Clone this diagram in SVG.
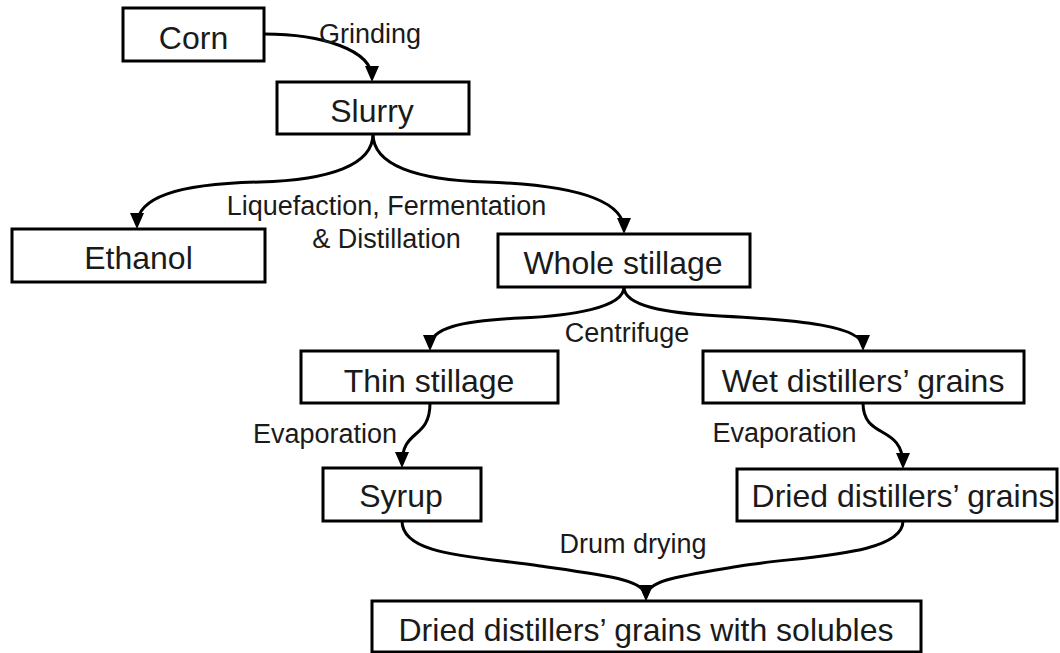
<svg xmlns="http://www.w3.org/2000/svg" width="1060" height="653" viewBox="0 0 1060 653">
<style>
.box rect{fill:#fff;stroke:#000;stroke-width:3}
.box text{font-family:"Liberation Sans",Arial,sans-serif;font-size:32px;fill:#1a1a1a;text-anchor:middle}
.lbl{font-family:"Liberation Sans",Arial,sans-serif;font-size:27px;fill:#1a1a1a;text-anchor:middle}
.edge{fill:none;stroke:#000;stroke-width:3;marker-end:url(#arr)}
</style>
<defs>
<marker id="arr" viewBox="0 0 16 14" refX="12" refY="7" markerWidth="16" markerHeight="14" markerUnits="userSpaceOnUse" orient="auto"><path d="M0,0 L16,7 L0,14 z" fill="#000"/></marker>
</defs>
<rect width="1060" height="653" fill="#fff"/>
<g id="connectors">
<path class="edge" d="M264,34 C322,34 372,50 372,78"/>
<path class="edge" d="M373,134 C373,165 330,180 260,182 C175,184 137,198 137,225"/>
<path class="edge" d="M373,134 C373,165 416,180 486,182 C575,185 624,200 624,230"/>
<path class="edge" d="M624,287 C624,308 570,316 520,318 C460,321 430,328 430,347"/>
<path class="edge" d="M624,287 C624,306 665,313 720,316 C800,320 863,326 863,347"/>
<path class="edge" d="M430,403 C430,440 402,428 402,464"/>
<path class="edge" d="M863,403 C863,440 903,424 903,465"/>
<path class="edge" d="M402,521 C402,555 470,556 540,566 C610,576 646,580 646,597"/>
<path class="edge" d="M903,521 C903,556 800,556 740,566 C680,576 646,580 646,597"/>
</g>
<g id="labels">
<text class="lbl" x="370" y="43">Grinding</text>
<text class="lbl" x="386.5" y="215">Liquefaction, Fermentation</text>
<text class="lbl" x="386.5" y="248">&amp; Distillation</text>
<text class="lbl" x="627" y="342">Centrifuge</text>
<text class="lbl" x="397" y="443" style="text-anchor:end">Evaporation</text>
<text class="lbl" x="784.5" y="442">Evaporation</text>
<text class="lbl" x="633" y="553">Drum drying</text>
</g>
<g id="corn" class="box"><rect x="123" y="8" width="141" height="53"/><text x="193.5" y="49">Corn</text></g>
<g id="slurry" class="box"><rect x="277" y="82" width="192" height="52"/><text x="372" y="122">Slurry</text></g>
<g id="ethanol" class="box"><rect x="12" y="229" width="253" height="53"/><text x="138.5" y="269">Ethanol</text></g>
<g id="whole-stillage" class="box"><rect x="498" y="234" width="252" height="53"/><text x="623" y="274">Whole stillage</text></g>
<g id="thin-stillage" class="box"><rect x="301" y="351" width="257" height="52"/><text x="429" y="392">Thin stillage</text></g>
<g id="wet-grains" class="box"><rect x="703" y="351" width="321" height="52"/><text x="863" y="392">Wet distillers’ grains</text></g>
<g id="syrup" class="box"><rect x="323" y="468" width="158" height="53"/><text x="401" y="507">Syrup</text></g>
<g id="dried-grains" class="box"><rect x="737" y="469" width="320" height="52"/><text x="903" y="507">Dried distillers’ grains</text></g>
<g id="ddgs" class="box"><rect x="372" y="601" width="549" height="51"/><text x="646" y="641">Dried distillers’ grains with solubles</text></g>
</svg>
